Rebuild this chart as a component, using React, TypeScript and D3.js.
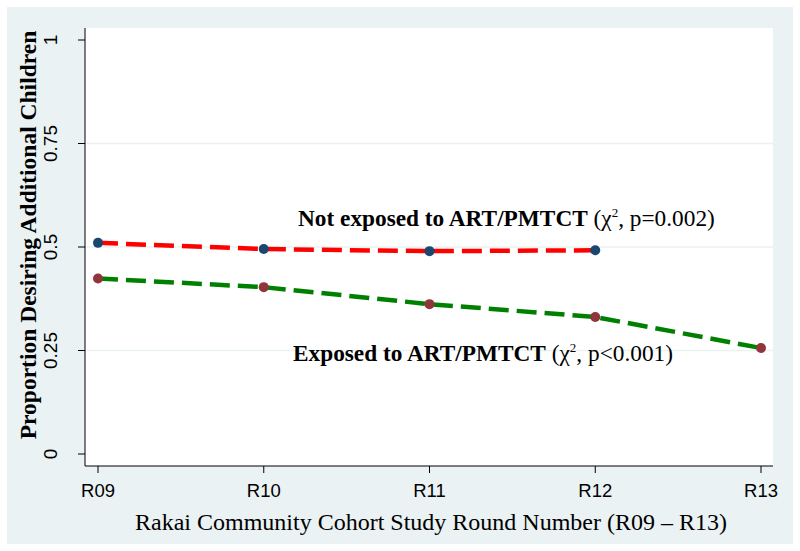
import React from "react";
import * as d3 from "d3";

const rounds = ["R09", "R10", "R11", "R12", "R13"];
const notExposed = [0.51, 0.495, 0.49, 0.492];
const exposed = [0.424, 0.403, 0.362, 0.331, 0.256];
const yTicks = [0, 0.25, 0.5, 0.75, 1];
const yTickLabels = ["0", "0.25", "0.5", "0.75", "1"];

const W = 800, H = 551;
const plot = { left: 85, right: 773, top: 28, bottom: 466 };
const serif = "Liberation Serif, Times New Roman, serif";
const sans = "Liberation Sans, Arial, sans-serif";

export default function App() {
  const x = d3.scalePoint<string>().domain(rounds).range([98, 761]);
  const y = d3.scaleLinear().domain([0, 1]).range([454, 40]);
  const line = d3.line<number>().x((_, i) => x(rounds[i])!).y((d) => y(d));

  return (
    <svg width={W} height={H} style={{ position: "absolute", left: 0, top: 0 }}>
      <rect x={0} y={0} width={W} height={H} fill="#ffffff" />
      <rect x={7} y={7} width={786} height={537} fill="#eaf2f3" />
      <rect x={plot.left} y={plot.top} width={plot.right - plot.left} height={plot.bottom - plot.top} fill="#ffffff" />
      {yTicks.slice(1, -1).map((t) => (
        <line key={t} x1={plot.left} x2={plot.right} y1={y(t)} y2={y(t)} stroke="#eaf2f3" strokeWidth={1.5} />
      ))}
      <line x1={plot.left} x2={plot.left} y1={plot.top} y2={plot.bottom} stroke="#000" strokeWidth={1} />
      <line x1={plot.left} x2={plot.right} y1={plot.bottom} y2={plot.bottom} stroke="#000" strokeWidth={1} />
      {yTicks.map((t, i) => (
        <g key={t}>
          <line x1={plot.left - 7} x2={plot.left} y1={y(t)} y2={y(t)} stroke="#000" />
          <text
            transform={`translate(${57},${y(t)}) rotate(-90)`}
            textAnchor="middle"
            fontFamily={sans}
            fontSize={19}
            fill="#000"
          >
            {yTickLabels[i]}
          </text>
        </g>
      ))}
      {rounds.map((r) => (
        <g key={r}>
          <line x1={x(r)} x2={x(r)} y1={plot.bottom} y2={plot.bottom + 7} stroke="#000" />
          <text x={x(r)} y={497} textAnchor="middle" fontFamily={sans} fontSize={18.5} fill="#000">
            {r}
          </text>
        </g>
      ))}
      <text x={431} y={530} textAnchor="middle" fontFamily={serif} fontSize={24} fill="#000">
        Rakai Community Cohort Study Round Number (R09 – R13)
      </text>
      <text
        transform={`translate(36,${235}) rotate(-90)`}
        textAnchor="middle"
        fontFamily={serif}
        fontSize={23.5}
        fontWeight="bold"
        fill="#000"
      >
        Proportion Desiring Additional Children
      </text>
      <path d={line(notExposed)!} fill="none" stroke="#ff0000" strokeWidth={4.5} strokeDasharray="20 8" />
      <path d={line(exposed)!} fill="none" stroke="#008000" strokeWidth={4.5} strokeDasharray="20 8" />
      {notExposed.map((v, i) => (
        <circle key={"n" + i} cx={x(rounds[i])} cy={y(v)} r={5} fill="#1a476f" />
      ))}
      {exposed.map((v, i) => (
        <circle key={"e" + i} cx={x(rounds[i])} cy={y(v)} r={5} fill="#90353b" />
      ))}
      <text x={298} y={226} fontFamily={serif} fontSize={23.3} fill="#000">
        <tspan fontWeight="bold">Not exposed to ART/PMTCT</tspan>
        <tspan> (χ</tspan>
        <tspan fontSize={13} dy={-9}>2</tspan>
        <tspan dy={9}>, p=0.002)</tspan>
      </text>
      <text x={293} y={361} fontFamily={serif} fontSize={23.3} fill="#000">
        <tspan fontWeight="bold">Exposed to ART/PMTCT</tspan>
        <tspan> (χ</tspan>
        <tspan fontSize={13} dy={-9}>2</tspan>
        <tspan dy={9}>, p&lt;0.001)</tspan>
      </text>
    </svg>
  );
}
